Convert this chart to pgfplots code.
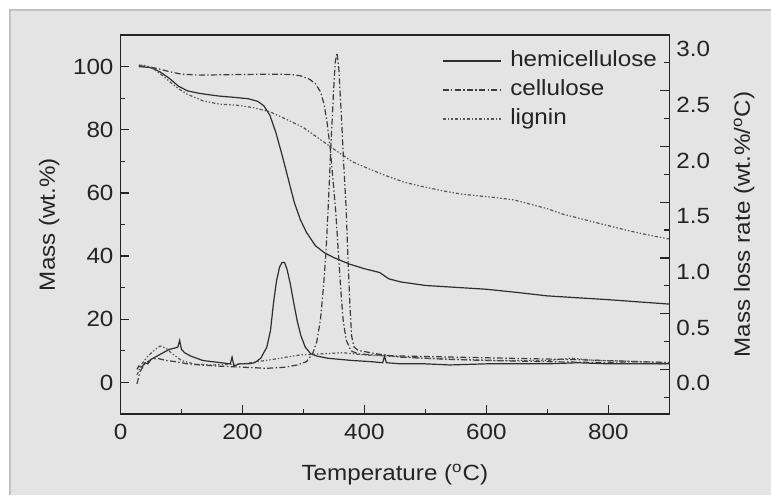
\documentclass[border=0pt]{standalone}
\usepackage{pgfplots}
\pgfplotsset{compat=1.18}
\usepackage{fontspec}
\setmainfont{Liberation Sans}[FakeStretch=1.1]

\definecolor{panel}{HTML}{E4E4E4}
\definecolor{panelline}{HTML}{C2C2C2}
\definecolor{ink}{HTML}{242424}
\definecolor{hemi}{HTML}{2E2E2E}
\definecolor{cell}{HTML}{3C3C3C}
\definecolor{lign}{HTML}{585858}

\tikzset{
  celldash/.style={dash pattern=on 3pt off 1.2pt on 0.7pt off 1.2pt},
  lignindash/.style={dash pattern=on 1.6pt off 1pt on 0.7pt off 1pt on 0.7pt off 1pt},
}

\pgfplotsset{
  tgframe/.style={
    scale only axis, width=274.4pt, height=189.5pt,
    at={(0pt,0pt)}, anchor=south west,
    font=\fontsize{11}{13}\selectfont,
    xmin=0, xmax=900,
    tick align=inside, major tick length=4.5pt, minor tick length=2.5pt,
    axis line style={ink, line width=0.7pt},
    tick style={ink, line width=0.6pt},
    /pgf/number format/assume math mode=true,
    tick label style={text=ink}, label style={text=ink},
  },
}

\begin{document}
\begin{tikzpicture}
\fill[panel] (-55.25pt,-40.5pt) rectangle (325.25pt,202pt);
\draw[panelline, line width=0.8pt] (-55.25pt,-40.5pt) -- (-55.25pt,202pt) -- (325.25pt,202pt);

% mass (TG) curves, left axis
\begin{axis}[
  tgframe,
  ymin=-10, ymax=110,
  xtick={0,200,400,600,800}, minor xtick={100,300,500,700},
  ytick={0,20,40,60,80,100}, minor ytick={10,30,50,70,90},
  xtick pos=bottom, ytick pos=left,
  xticklabel style={yshift=-1.5pt},
  xlabel={Temperature (\textsuperscript{o}C)},
  ylabel={Mass (wt.\%)},
  xlabel style={at={(axis description cs:0.5,0)}, anchor=base, yshift=-33pt},
  legend cell align=left,
  legend style={at={(1,1)}, anchor=north east, xshift=-1.5pt, yshift=-4pt,
    draw=none, fill=none, row sep=1pt,
    nodes={inner sep=1.5pt, text height=8pt, text depth=2.5pt, text=ink},
    font=\fontsize{11}{13}\selectfont},
  legend image code/.code={\draw[#1] (0pt,0pt) -- (29pt,0pt); \path (32pt,0pt);},
]
\addplot[hemi, line width=0.6pt] coordinates {
  (30,100) (50,99.7) (65,98.3) (80,96.3) (95,93.8) (110,92.3) (130,91.5)
  (160,90.7) (190,90.2) (210,89.8) (225,89.0) (235,87.6) (245,84.6)
  (255,79) (265,72) (275,64.5) (285,57) (295,51.5) (305,47.5) (320,43.2)
  (335,41) (350,39.5) (375,37.5) (400,36) (425,34.8) (440,32.8) (460,31.8)
  (500,30.7) (550,30.1) (600,29.5) (650,28.5) (700,27.4) (750,26.8)
  (800,26.2) (850,25.5) (900,24.8)
};
\addlegendentry{hemicellulose}
\addplot[cell, line width=0.6pt, celldash] coordinates {
  (30,100.3) (45,100) (60,99.4) (80,98.4) (100,97.6) (130,97.3) (200,97.5)
  (250,97.6) (280,97.5) (295,97.1) (310,96) (320,94.5) (328,92) (334,88)
  (339,82) (344,74) (349,63) (353,54) (357,42) (361,30) (365,20)
  (370,13.5) (378,10) (390,9) (450,8.4) (550,8) (650,7.6) (750,7.2)
  (850,6.6) (900,6.3)
};
\addlegendentry{cellulose}
\addplot[lign, line width=0.6pt, lignindash] coordinates {
  (30,100.5) (40,100.3) (54,99.3) (68,97.3) (82,95) (95,93) (109,91.3)
  (122,90.2) (136,89.1) (163,88.1) (190,87.8) (218,87) (245,85.7)
  (272,83.3) (300,80.7) (327,77) (354,73.3) (381,69.8) (409,67.5)
  (436,65.4) (465,63.4) (491,62.2) (530,60.6) (560,59.6) (616,58.5)
  (645,57.8) (671,56.5) (700,55) (725,53.3) (780,50.6) (834,48)
  (870,46.5) (900,45.4)
};
\addlegendentry{lignin}
\end{axis}

% mass loss rate (DTG) curves, right axis
\begin{axis}[
  tgframe,
  ymin=-0.4, ymax=3.0,
  axis x line=none, axis y line*=right,
  ytick={0,0.5,1,1.5,2,2.5,3},
  minor ytick={-0.25,0.25,0.75,1.25,1.75,2.25,2.75},
  yticklabel style={yshift=-7pt, /pgf/number format/fixed,
    /pgf/number format/fixed zerofill, /pgf/number format/precision=1},
  ylabel={Mass loss rate (wt.\%/\textsuperscript{o}C)},
  ylabel shift=5pt,
]
\addplot[hemi, line width=0.6pt] coordinates {
  (27,0.0) (30,0.03) (35,0.02) (40,0.06) (45,0.05) (50,0.09) (60,0.12)
  (70,0.15) (80,0.18) (88,0.19) (94,0.2) (97,0.26) (100,0.18) (105,0.15)
  (115,0.12) (125,0.1) (135,0.08) (150,0.07) (165,0.06) (180,0.05)
  (183,0.11) (186,0.03) (195,0.05) (210,0.05) (220,0.06) (230,0.1)
  (240,0.2) (246,0.35) (251,0.6) (256,0.8) (261,0.92) (265,0.96)
  (269,0.96) (273,0.9) (278,0.78) (284,0.6) (290,0.43) (296,0.3)
  (303,0.2) (312,0.14) (322,0.12) (340,0.1) (360,0.09) (380,0.08)
  (410,0.07) (430,0.06) (433,0.12) (436,0.06) (460,0.05) (500,0.05)
  (540,0.04) (600,0.05) (650,0.05) (700,0.05) (750,0.06) (800,0.05)
  (850,0.05) (900,0.05)
};
\addplot[cell, line width=0.6pt, celldash] coordinates {
  (27,-0.13) (32,-0.02) (40,0.05) (50,0.09) (60,0.1) (75,0.08) (90,0.07)
  (110,0.05) (130,0.04) (160,0.03) (200,0.02) (240,0.01) (270,0.02)
  (290,0.04) (305,0.07) (315,0.14) (322,0.25) (328,0.45) (333,0.75)
  (337,1.05) (341,1.5) (345,2.0) (349,2.45) (352,2.75) (355,2.84)
  (358,2.7) (362,2.3) (366,1.85) (370,1.45) (373,1.0) (376,0.6)
  (379,0.3) (383,0.2) (390,0.17) (420,0.14) (460,0.11) (540,0.09)
  (600,0.08) (700,0.07) (800,0.06) (900,0.05)
};
\addplot[lign, line width=0.6pt, lignindash] coordinates {
  (27,-0.05) (35,0.05) (45,0.12) (55,0.17) (65,0.21) (75,0.19) (85,0.14)
  (100,0.08) (120,0.05) (150,0.04) (200,0.05) (250,0.09) (294,0.13)
  (330,0.14) (365,0.15) (400,0.13) (436,0.12) (500,0.1) (560,0.09)
  (620,0.08) (700,0.08) (740,0.1) (780,0.08) (850,0.07) (900,0.06)
};
\end{axis}

\pgfresetboundingbox
\useasboundingbox (-60.25pt,-40.5pt) rectangle (325.25pt,207pt);
\end{tikzpicture}
\end{document}
